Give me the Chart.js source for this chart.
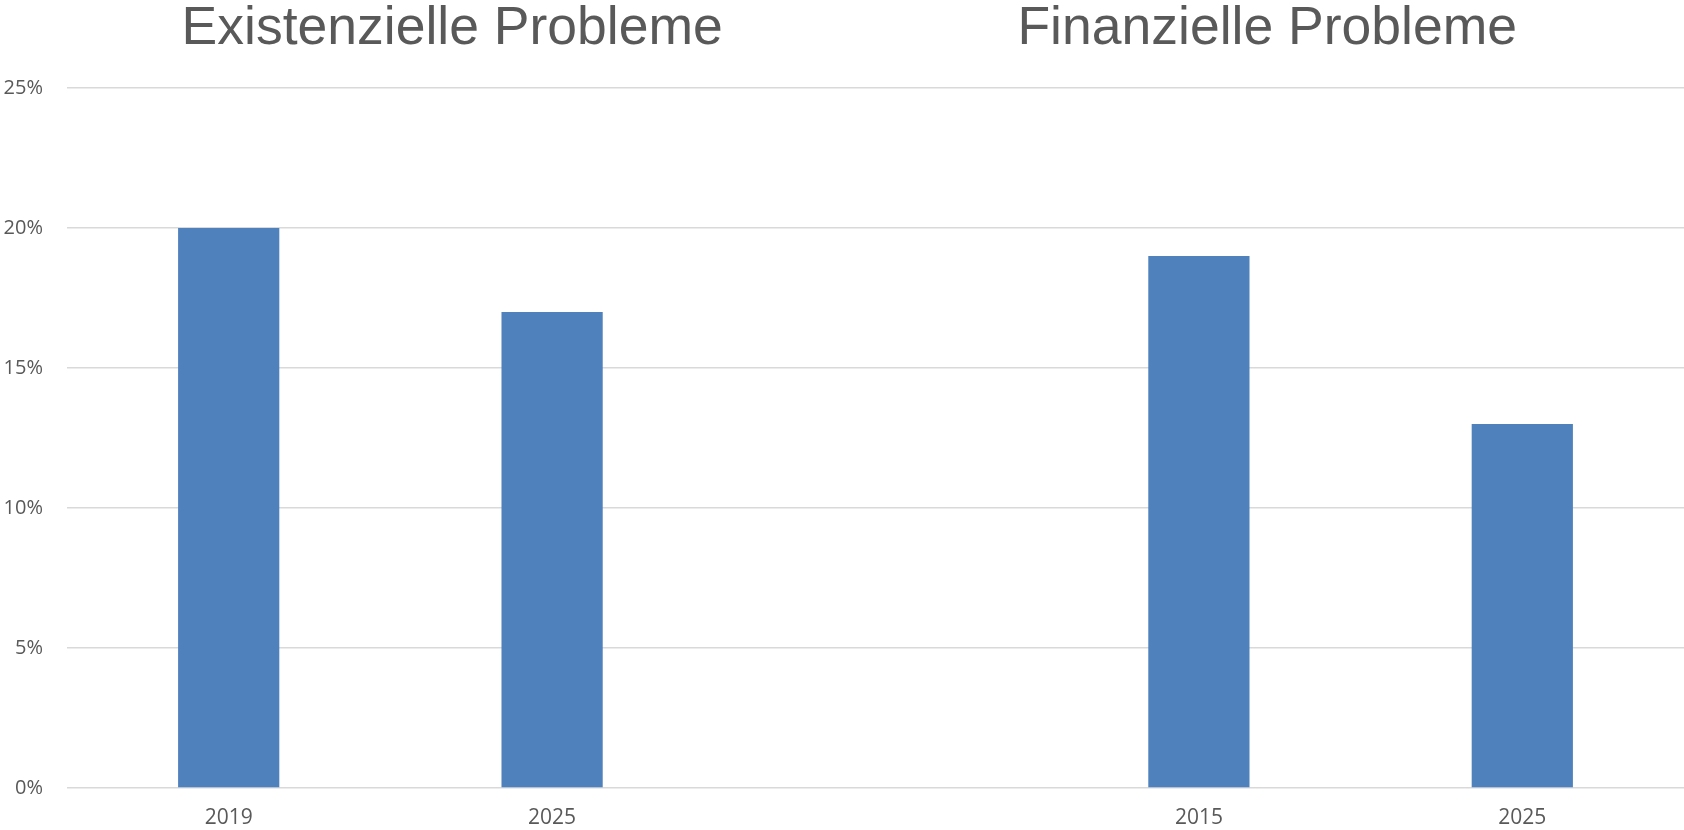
<!DOCTYPE html>
<html>
<head>
<meta charset="utf-8">
<script src="https://cdn.jsdelivr.net/npm/chart.js@4"></script>
<style>
  html, body { margin: 0; padding: 0; background: #fff; }
  #wrap { width: 1684px; height: 830px; position: relative; }
</style>
</head>
<body>
<div id="wrap"><canvas id="problemChart"></canvas></div>
<script>
// Years per group, with an empty slot between the two groups
const years = ['2019', '2025', '', '2015', '2025'];
// Share of respondents in percent
const shares = [20, 17, null, 19, 13];
// Group titles shown above the chart
const groupTitles = ['Existenzielle Probleme', 'Finanzielle Probleme'];
const yTicks = [0, 5, 10, 15, 20, 25];

const textGrey = '#595959';
const barBlue = '#4F81BD';

// Draw the two group titles above the plot area
const groupTitlePlugin = {
  id: 'groupTitles',
  afterDraw(chart) {
    const ctx = chart.ctx;
    const w = chart.width;
    const centers = [0.2685 * w, 0.7525 * w];
    ctx.save();
    ctx.font = '53.5px "Liberation Sans", Arial, sans-serif';
    ctx.fillStyle = textGrey;
    ctx.textAlign = 'center';
    ctx.textBaseline = 'alphabetic';
    groupTitles.forEach((t, i) => ctx.fillText(t, centers[i], 43.5));
    ctx.restore();
  }
};

const ctx = document.getElementById('problemChart').getContext('2d');
const problemChart = new Chart(ctx, {
  type: 'bar',
  data: {
    labels: years,
    datasets: [{
      data: shares,
      backgroundColor: barBlue,
      borderWidth: 0,
      categoryPercentage: 1,
      barPercentage: 0.313
    }]
  },
  options: {
    responsive: true,
    maintainAspectRatio: false,
    animation: false,
    layout: { padding: { top: 88, right: 0, bottom: 0, left: 0 } },
    plugins: {
      legend: { display: false },
      tooltip: { enabled: false }
    },
    scales: {
      x: {
        afterFit(scale) { scale.height = 42; },
        grid: { display: false, drawTicks: false },
        border: { display: false },
        ticks: {
          color: textGrey,
          font: { family: '"Open Sans", sans-serif', size: 21 },
          padding: 17,
          maxRotation: 0
        }
      },
      y: {
        min: 0,
        max: 25,
        afterBuildTicks(scale) {
          scale.ticks = yTicks.map(v => ({ value: v }));
        },
        afterFit(scale) { scale.width = 67; },
        grid: { color: '#D9D9D9', lineWidth: 1.5, drawTicks: false },
        border: { display: false },
        ticks: {
          color: textGrey,
          font: { family: '"Open Sans", sans-serif', size: 20 },
          padding: 24,
          callback: v => v + '%'
        }
      }
    }
  },
  plugins: [groupTitlePlugin]
});
</script>
</body>
</html>
